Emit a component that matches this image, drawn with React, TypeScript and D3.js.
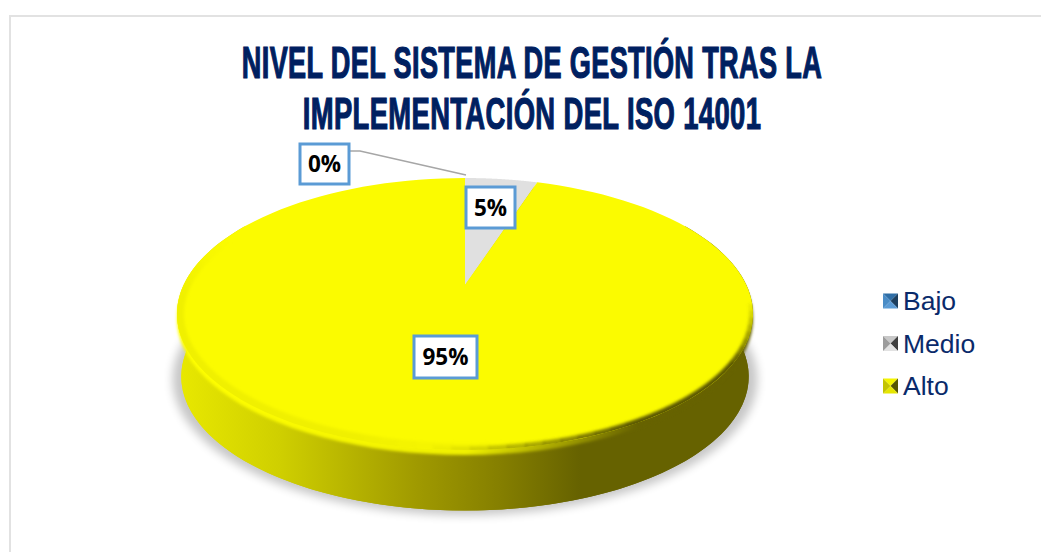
import * as d3 from "d3";

const categories = ["Bajo", "Medio", "Alto"];
const values = [0, 5, 95];
const titleLines = ["NIVEL DEL SISTEMA DE GESTIÓN TRAS LA", "IMPLEMENTACIÓN DEL ISO 14001"];
// no condensed face is installed, so the title is squeezed horizontally
const titleSqueeze = [0.616, 0.623];

const W = 1041;
const H = 552;
const navy = "#002060";
const sliceColors = ["#2e75b6", "#e0e0e0", "#fbfb00"];
// pyramid shading of the legend keys: top, right, bottom, left
const keyShades = [
  ["#2f6ea6", "#1d3f5f", "#5b9bd5", "#4a8cc6"],
  ["#c8c8c8", "#3f3f3f", "#e2e2e2", "#9c9c9c"],
  ["#f4f400", "#555500", "#e6e600", "#c4c400"],
];

// perspective view of the disc: the pie centre sits above the middle of the ellipse
const cx = 465;
const cy = 285;
const k = 0.2133;
const A = 129.8;
const R = 281.4;

function project(a: number, scale = 1, dy = 0, grow = 0): [number, number] {
  const d = 1 + k * Math.cos(a);
  return [
    cx + (R * scale * Math.sin(a)) / d + grow * Math.sin(a),
    cy + dy - (A * scale * Math.cos(a)) / d,
  ];
}

const line = d3.line();

function arcPoints(a0: number, a1: number, scale = 1, dy = 0, grow = 0) {
  return d3.range(0, 121).map((i) => project(a0 + ((a1 - a0) * i) / 120, scale, dy, grow));
}

const deg = Math.PI / 180;
const pieData = d3.pie<number>().sort(null).startAngle(0).endAngle(2 * Math.PI)(values);

const facePath = line(arcPoints(0, 2 * Math.PI))! + "Z";
const rimPath = line(arcPoints(0, 2 * Math.PI, 1, 5))! + "Z";
const wallPath =
  line([...arcPoints(60 * deg, 300 * deg), ...arcPoints(60 * deg, 300 * deg, 0.985, 63).reverse()])! + "Z";
const basePath = line(arcPoints(0, 2 * Math.PI, 0.985, 63))! + "Z";
const shadowPath = line(arcPoints(0, 2 * Math.PI, 0.995, 66, 6))! + "Z";

function slicePath(a0: number, a1: number) {
  return line([[cx, cy], ...arcPoints(a0, a1)])! + "Z";
}

const wallStops: [number, string][] = [
  [180, "#e8e800"],
  [280, "#cfcf00"],
  [416, "#a09a00"],
  [500, "#857f00"],
  [580, "#666200"],
  [752, "#666200"],
];
const wallX = d3.scaleLinear().domain([180, 752]).range([0, 100]);

// rim shading fades in and out along the edge
const darkRim = d3.scaleLinear().domain([95, 122, 150, 185]).range([0, 1, 1, 0]).clamp(true);
const lightRim = d3.scaleLinear().domain([172, 195, 265, 292]).range([0, 1, 1, 0]).clamp(true);
const rimAngles = d3.range(92, 296, 3);

const labelBoxes = [
  { text: "0%", x0: 300, x1: 349, y0: 144, y1: 184 },
  { text: "5%", x0: 466, x1: 515, y0: 187, y1: 228 },
  { text: "95%", x0: 414, x1: 477, y0: 336, y1: 378 },
];
const leader: [number, number][] = [
  [350, 151],
  [360, 151],
  [466, 175],
];
const legendY = d3.scalePoint<string>().domain(categories).range([301, 386]);

export default function App() {
  return (
    <svg
      width={W}
      height={H}
      viewBox={`0 0 ${W} ${H}`}
      style={{ position: "absolute", left: 0, top: 0, background: "#fff" }}
    >
      <defs>
        <linearGradient id="wall" gradientUnits="userSpaceOnUse" x1={180} x2={752} y1={0} y2={0}>
          {wallStops.map(([x, c]) => (
            <stop key={x} offset={`${wallX(x)}%`} stopColor={c} />
          ))}
        </linearGradient>
        <linearGradient id="rim" gradientUnits="userSpaceOnUse" x1={180} x2={752} y1={0} y2={0}>
          <stop offset="0%" stopColor="#ffff00" />
          <stop offset="50%" stopColor="#f0f000" />
          <stop offset="80%" stopColor="#666200" />
        </linearGradient>
        <filter id="shadowBlur" x="-10%" y="-10%" width="120%" height="120%">
          <feGaussianBlur stdDeviation={5} />
        </filter>
        <filter id="bevelBlur" x="-10%" y="-10%" width="120%" height="120%">
          <feGaussianBlur stdDeviation={1.6} />
        </filter>
        <clipPath id="faceClip">
          <path d={facePath} />
        </clipPath>
      </defs>

      {/* frame: only the top and left edges are in the picture */}
      <rect x={9} y={15} width={W - 9} height={2} fill="#e2e2e2" />
      <rect x={9} y={15} width={2} height={H - 15} fill="#e2e2e2" />

      {titleLines.map((t, i) => (
        <text
          key={t}
          transform={`translate(532,${78 + i * 51}) scale(${titleSqueeze[i]},1)`}
          textAnchor="middle"
          fontFamily="'Liberation Sans', Arial, sans-serif"
          fontWeight={700}
          fontSize={44}
          letterSpacing={0.6}
          fill={navy}
          stroke={navy}
          strokeWidth={1.2}
        >
          {t}
        </text>
      ))}

      <path d={shadowPath} fill="#000" opacity={0.22} filter="url(#shadowBlur)" />
      <path d={basePath} fill="url(#wall)" />
      <path d={wallPath} fill="url(#wall)" />
      <path d={rimPath} fill="url(#rim)" filter="url(#bevelBlur)" />

      {pieData.map((d, i) =>
        d.endAngle > d.startAngle ? (
          <path key={categories[i]} d={slicePath(d.startAngle, d.endAngle)} fill={sliceColors[i]} />
        ) : null,
      )}

      {/* bevel on the rim of the disc */}
      <g clipPath="url(#faceClip)">
        <g filter="url(#bevelBlur)">
          {rimAngles.map((a) => (
            <path
              key={a}
              d={line(arcPoints(a * deg, (a + 3.2) * deg))!}
              fill="none"
              stroke="#5c5800"
              strokeWidth={8}
              opacity={darkRim(a)}
            />
          ))}
          {rimAngles.map((a) => (
            <path
              key={a}
              d={line(arcPoints(a * deg, (a + 3.2) * deg))!}
              fill="none"
              stroke="#f0f000"
              strokeWidth={14}
              opacity={lightRim(a)}
            />
          ))}
        </g>
      </g>

      <path d={line(leader)!} fill="none" stroke="#a6a6a6" strokeWidth={1.5} />

      {labelBoxes.map((b) => (
        <g key={b.text}>
          <rect
            x={b.x0}
            y={b.y0}
            width={b.x1 - b.x0}
            height={b.y1 - b.y0}
            fill="#fff"
            stroke="#5b9bd5"
            strokeWidth={3}
          />
          <text
            x={(b.x0 + b.x1) / 2}
            y={(b.y0 + b.y1) / 2 + 8}
            textAnchor="middle"
            fontFamily="'Open Sans', sans-serif"
            fontWeight={700}
            fontSize={22.5}
            fill="#000"
          >
            {b.text}
          </text>
        </g>
      ))}

      {categories.map((c, i) => {
        const y = legendY(c)!;
        const x = 890.5;
        const s = 7.5;
        const corners: [number, number][] = [
          [x - s, y - s],
          [x + s, y - s],
          [x + s, y + s],
          [x - s, y + s],
        ];
        return (
          <g key={c}>
            {keyShades[i].map((col, j) => (
              <path key={j} d={line([corners[j], corners[(j + 1) % 4], [x, y]])! + "Z"} fill={col} />
            ))}
            <text
              x={903}
              y={y + 9}
              fontFamily="'Liberation Sans', Arial, sans-serif"
              fontSize={26.5}
              fill="#0a2a6a"
            >
              {c}
            </text>
          </g>
        );
      })}
    </svg>
  );
}
